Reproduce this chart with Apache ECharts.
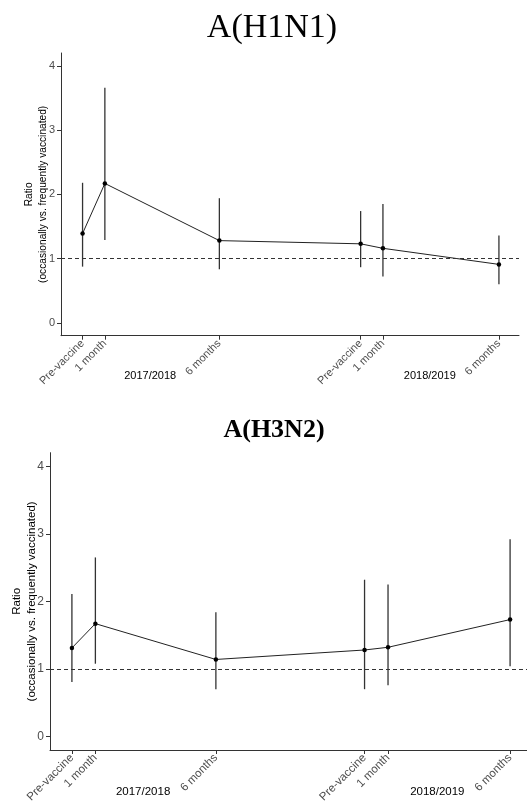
<!DOCTYPE html>
<html>
<head>
<meta charset="utf-8">
<script src="https://cdn.jsdelivr.net/npm/echarts@6/dist/echarts.min.js"></script>
<style>html,body{margin:0;padding:0;background:#fff;}#chart{width:527px;height:810px;}</style>
</head>
<body>
<div id="chart"></div>
<script>
// ---- data ----
const timepointLabels = ['Pre-vaccine', '1 month', '6 months', 'Pre-vaccine', '1 month', '6 months'];
const daysSinceStart = [0, 30, 184, 374, 404, 560];
const seasons = ['2017/2018', '2018/2019'];
const seasonLabelDays = [91, 467];
const yTicks = [0, 1, 2, 3, 4];

const h1n1Ratio = [1.39, 2.17, 1.28, 1.23, 1.16, 0.91];
const h1n1Lower = [0.875, 1.29, 0.834, 0.866, 0.72, 0.60];
const h1n1Upper = [2.18, 3.66, 1.94, 1.74, 1.85, 1.36];

const h3n2Ratio = [1.31, 1.67, 1.14, 1.28, 1.32, 1.73];
const h3n2Lower = [0.805, 1.077, 0.70, 0.70, 0.76, 1.04];
const h3n2Upper = [2.11, 2.65, 1.84, 2.32, 2.25, 2.92];

const refLine = 1;

// ---- chart ----
const SANS = 'Liberation Sans, Arial, sans-serif';
const SERIF = 'Liberation Serif, Times New Roman, serif';
const AXIS_COL = '#333';
const LABEL_COL = '#4d4d4d';

function xAxes(gridIndex, min, max, fs, yearMargin) {
  return [{
    type: 'value', gridIndex: gridIndex, min: min, max: max, position: 'bottom',
    splitLine: { show: false },
    axisLine: { show: true, onZero: false, lineStyle: { color: AXIS_COL, width: 1 } },
    axisTick: { show: true, length: 4, lineStyle: { color: AXIS_COL }, customValues: daysSinceStart },
    axisLabel: {
      customValues: daysSinceStart, rotate: 45, margin: 6,
      fontSize: fs, color: LABEL_COL, fontFamily: SANS,
      formatter: function (v) { return timepointLabels[daysSinceStart.indexOf(v)]; }
    }
  }, {
    type: 'value', gridIndex: gridIndex, min: min, max: max, position: 'bottom',
    splitLine: { show: false }, axisLine: { show: false, onZero: false }, axisTick: { show: false },
    axisLabel: {
      customValues: seasonLabelDays, margin: yearMargin,
      fontSize: fs, color: '#000', fontFamily: SANS,
      formatter: function (v) { return seasons[seasonLabelDays.indexOf(v)]; }
    }
  }];
}

function yAxis(gridIndex, fs, nfs, lh, gap) {
  return {
    type: 'value', gridIndex: gridIndex, min: -0.2, max: 4.2,
    splitLine: { show: false },
    axisLine: { show: true, onZero: false, lineStyle: { color: AXIS_COL, width: 1 } },
    axisTick: { show: true, length: 4, lineStyle: { color: AXIS_COL }, customValues: yTicks },
    axisLabel: { customValues: yTicks, margin: 6, fontSize: fs, color: LABEL_COL, fontFamily: SANS },
    name: 'Ratio\n(occasionally vs. frequently vaccinated)',
    nameLocation: 'middle', nameRotate: 90, nameGap: gap, nameMoveOverlap: false,
    nameTextStyle: { fontSize: nfs, lineHeight: lh, color: '#000', fontFamily: SANS }
  };
}

function pairs(xs, ys) { return xs.map(function (x, i) { return [x, ys[i]]; }); }
function triples(xs, lo, hi) { return xs.map(function (x, i) { return [x, lo[i], hi[i]]; }); }

function errorSeries(xIdx, yIdx, lo, hi) {
  return {
    type: 'custom', xAxisIndex: xIdx, yAxisIndex: yIdx, z: 2,
    data: triples(daysSinceStart, lo, hi),
    encode: { x: 0, y: [1, 2] },
    renderItem: function (params, api) {
      const a = api.coord([api.value(0), api.value(1)]);
      const b = api.coord([api.value(0), api.value(2)]);
      return { type: 'line', shape: { x1: a[0], y1: a[1], x2: b[0], y2: b[1] },
               style: { stroke: '#333', lineWidth: 1.3 } };
    }
  };
}

function lineSeries(xIdx, yIdx, vals) {
  return {
    type: 'line', xAxisIndex: xIdx, yAxisIndex: yIdx, z: 3,
    data: pairs(daysSinceStart, vals),
    symbol: 'circle', symbolSize: 4.5,
    itemStyle: { color: '#000' },
    lineStyle: { color: '#222', width: 1 },
    markLine: {
      silent: true, symbol: 'none', label: { show: false },
      lineStyle: { color: '#333', type: [4, 3], width: 1 },
      data: [{ yAxis: refLine }]
    },
    animation: false
  };
}

const chart = echarts.init(document.getElementById('chart'));
chart.setOption({
  animation: false,
  backgroundColor: '#fff',
  grid: [
    { left: 61, top: 53, width: 458, height: 282.7, containLabel: false, outerBoundsMode: 'none' },
    { left: 50, top: 452.7, width: 482, height: 297.3, containLabel: false, outerBoundsMode: 'none' }
  ],
  xAxis: xAxes(0, -29, 587, 11, 35).concat(xAxes(1, -28, 588, 11.5, 36)),
  yAxis: [yAxis(0, 11, 10.2, 14, 11), yAxis(1, 12, 11.5, 15, 10.5)],
  series: [
    errorSeries(0, 0, h1n1Lower, h1n1Upper),
    lineSeries(0, 0, h1n1Ratio),
    errorSeries(2, 1, h3n2Lower, h3n2Upper),
    lineSeries(2, 1, h3n2Ratio)
  ],
  graphic: [
    { type: 'text', x: 272, y: 28, style: { text: 'A(H1N1)', fontFamily: SERIF, fontSize: 34,
      fill: '#000', textAlign: 'center', textVerticalAlign: 'middle' } },
    { type: 'text', x: 274, y: 430, style: { text: 'A(H3N2)', fontFamily: SERIF, fontSize: 26,
      fontWeight: 'bold', fill: '#000', textAlign: 'center', textVerticalAlign: 'middle' } }
  ]
});
</script>
</body>
</html>
